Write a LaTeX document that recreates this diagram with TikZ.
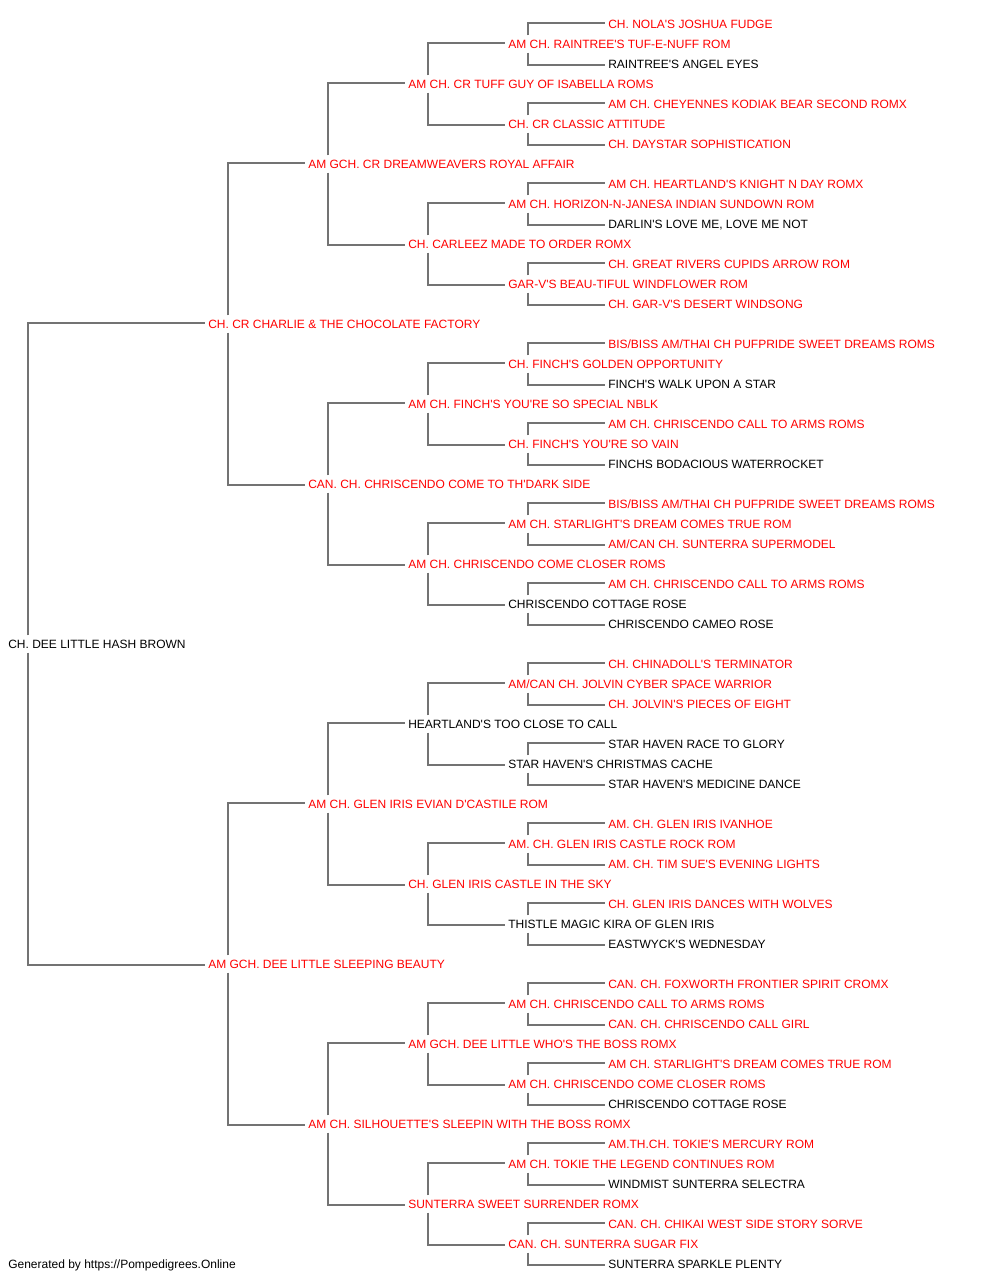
\documentclass[tikz,border=0pt]{standalone}
\usepackage{fontspec}
\newfontfamily\lsans{Liberation Sans}
\definecolor{rd}{HTML}{FF0000}
\definecolor{ln}{HTML}{737373}
\begin{document}
\begin{tikzpicture}[x=0.75pt,y=-0.75pt,
  nm/.style={anchor=base west, inner xsep=2.25pt, inner ysep=3pt, text height=6.5pt, text depth=0pt, font=\lsans\fontsize{9pt}{10pt}\selectfont},
  redn/.style={nm,text=rd},
  blkn/.style={nm,text=black},
  cn/.style={draw=ln,line width=1.7pt}]
\useasboundingbox (0,0) rectangle (1000,1280);
\node[redn] (n0) at (605,28.3) {CH. NOLA'S JOSHUA FUDGE};
\node[redn] (n1) at (505,48.3) {AM CH. RAINTREE'S TUF-E-NUFF ROM};
\node[blkn] (n2) at (605,68.3) {RAINTREE'S ANGEL EYES};
\node[redn] (n3) at (405,88.3) {AM CH. CR TUFF GUY OF ISABELLA ROMS};
\node[redn] (n4) at (605,108.3) {AM CH. CHEYENNES KODIAK BEAR SECOND ROMX};
\node[redn] (n5) at (505,128.3) {CH. CR CLASSIC ATTITUDE};
\node[redn] (n6) at (605,148.3) {CH. DAYSTAR SOPHISTICATION};
\node[redn] (n7) at (305,168.3) {AM GCH. CR DREAMWEAVERS ROYAL AFFAIR};
\node[redn] (n8) at (605,188.3) {AM CH. HEARTLAND'S KNIGHT N DAY ROMX};
\node[redn] (n9) at (505,208.3) {AM CH. HORIZON-N-JANESA INDIAN SUNDOWN ROM};
\node[blkn] (n10) at (605,228.3) {DARLIN'S LOVE ME, LOVE ME NOT};
\node[redn] (n11) at (405,248.3) {CH. CARLEEZ MADE TO ORDER ROMX};
\node[redn] (n12) at (605,268.3) {CH. GREAT RIVERS CUPIDS ARROW ROM};
\node[redn] (n13) at (505,288.3) {GAR-V'S BEAU-TIFUL WINDFLOWER ROM};
\node[redn] (n14) at (605,308.3) {CH. GAR-V'S DESERT WINDSONG};
\node[redn] (n15) at (205,328.3) {CH. CR CHARLIE \& THE CHOCOLATE FACTORY};
\node[redn] (n16) at (605,348.3) {BIS/BISS AM/THAI CH PUFPRIDE SWEET DREAMS ROMS};
\node[redn] (n17) at (505,368.3) {CH. FINCH'S GOLDEN OPPORTUNITY};
\node[blkn] (n18) at (605,388.3) {FINCH'S WALK UPON A STAR};
\node[redn] (n19) at (405,408.3) {AM CH. FINCH'S YOU'RE SO SPECIAL NBLK};
\node[redn] (n20) at (605,428.3) {AM CH. CHRISCENDO CALL TO ARMS ROMS};
\node[redn] (n21) at (505,448.3) {CH. FINCH'S YOU'RE SO VAIN};
\node[blkn] (n22) at (605,468.3) {FINCHS BODACIOUS WATERROCKET};
\node[redn] (n23) at (305,488.3) {CAN. CH. CHRISCENDO COME TO TH'DARK SIDE};
\node[redn] (n24) at (605,508.3) {BIS/BISS AM/THAI CH PUFPRIDE SWEET DREAMS ROMS};
\node[redn] (n25) at (505,528.3) {AM CH. STARLIGHT'S DREAM COMES TRUE ROM};
\node[redn] (n26) at (605,548.3) {AM/CAN CH. SUNTERRA SUPERMODEL};
\node[redn] (n27) at (405,568.3) {AM CH. CHRISCENDO COME CLOSER ROMS};
\node[redn] (n28) at (605,588.3) {AM CH. CHRISCENDO CALL TO ARMS ROMS};
\node[blkn] (n29) at (505,608.3) {CHRISCENDO COTTAGE ROSE};
\node[blkn] (n30) at (605,628.3) {CHRISCENDO CAMEO ROSE};
\node[blkn] (n31) at (5,648.3) {CH. DEE LITTLE HASH BROWN};
\node[redn] (n32) at (605,668.3) {CH. CHINADOLL'S TERMINATOR};
\node[redn] (n33) at (505,688.3) {AM/CAN CH. JOLVIN CYBER SPACE WARRIOR};
\node[redn] (n34) at (605,708.3) {CH. JOLVIN'S PIECES OF EIGHT};
\node[blkn] (n35) at (405,728.3) {HEARTLAND'S TOO CLOSE TO CALL};
\node[blkn] (n36) at (605,748.3) {STAR HAVEN RACE TO GLORY};
\node[blkn] (n37) at (505,768.3) {STAR HAVEN'S CHRISTMAS CACHE};
\node[blkn] (n38) at (605,788.3) {STAR HAVEN'S MEDICINE DANCE};
\node[redn] (n39) at (305,808.3) {AM CH. GLEN IRIS EVIAN D'CASTILE ROM};
\node[redn] (n40) at (605,828.3) {AM. CH. GLEN IRIS IVANHOE};
\node[redn] (n41) at (505,848.3) {AM. CH. GLEN IRIS CASTLE ROCK ROM};
\node[redn] (n42) at (605,868.3) {AM. CH. TIM SUE'S EVENING LIGHTS};
\node[redn] (n43) at (405,888.3) {CH. GLEN IRIS CASTLE IN THE SKY};
\node[redn] (n44) at (605,908.3) {CH. GLEN IRIS DANCES WITH WOLVES};
\node[blkn] (n45) at (505,928.3) {THISTLE MAGIC KIRA OF GLEN IRIS};
\node[blkn] (n46) at (605,948.3) {EASTWYCK'S WEDNESDAY};
\node[redn] (n47) at (205,968.3) {AM GCH. DEE LITTLE SLEEPING BEAUTY};
\node[redn] (n48) at (605,988.3) {CAN. CH. FOXWORTH FRONTIER SPIRIT CROMX};
\node[redn] (n49) at (505,1008.3) {AM CH. CHRISCENDO CALL TO ARMS ROMS};
\node[redn] (n50) at (605,1028.3) {CAN. CH. CHRISCENDO CALL GIRL};
\node[redn] (n51) at (405,1048.3) {AM GCH. DEE LITTLE WHO'S THE BOSS ROMX};
\node[redn] (n52) at (605,1068.3) {AM CH. STARLIGHT'S DREAM COMES TRUE ROM};
\node[redn] (n53) at (505,1088.3) {AM CH. CHRISCENDO COME CLOSER ROMS};
\node[blkn] (n54) at (605,1108.3) {CHRISCENDO COTTAGE ROSE};
\node[redn] (n55) at (305,1128.3) {AM CH. SILHOUETTE'S SLEEPIN WITH THE BOSS ROMX};
\node[redn] (n56) at (605,1148.3) {AM.TH.CH. TOKIE'S MERCURY ROM};
\node[redn] (n57) at (505,1168.3) {AM CH. TOKIE THE LEGEND CONTINUES ROM};
\node[blkn] (n58) at (605,1188.3) {WINDMIST SUNTERRA SELECTRA};
\node[redn] (n59) at (405,1208.3) {SUNTERRA SWEET SURRENDER ROMX};
\node[redn] (n60) at (605,1228.3) {CAN. CH. CHIKAI WEST SIDE STORY SORVE};
\node[redn] (n61) at (505,1248.3) {CAN. CH. SUNTERRA SUGAR FIX};
\node[blkn] (n62) at (605,1268.3) {SUNTERRA SPARKLE PLENTY};
\node[blkn] (foot) at (5,1268.3) {Generated by https://Pompedigrees.Online};
\foreach \p/\s in {1/1,5/1,9/1,13/1,17/1,21/1,25/1,29/1,33/1,37/1,41/1,45/1,49/1,53/1,57/1,61/1,3/2,11/2,19/2,27/2,35/2,43/2,51/2,59/2,7/4,23/4,39/4,55/4,15/8,47/8,31/16}{
  \pgfmathtruncatemacro\upi{\p-\s}
  \pgfmathtruncatemacro\loi{\p+\s}
  \draw[cn] ([xshift=17.25pt]n\p.north west) |- ([yshift=0.6pt]n\upi.west);
  \draw[cn] ([xshift=17.25pt]n\p.south west) |- ([yshift=-0.6pt]n\loi.west);
}
\end{tikzpicture}
\end{document}
